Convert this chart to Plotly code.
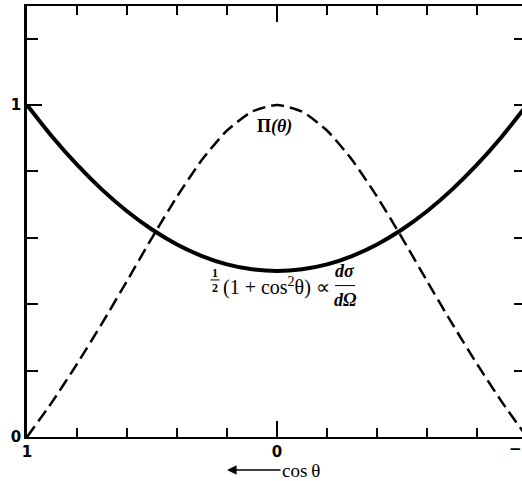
import plotly.graph_objects as go

# cos(theta) sample points, running from 1 on the left to -1 on the right
cos_theta = [1.0, 0.9, 0.8, 0.7, 0.6, 0.5, 0.4, 0.3, 0.2, 0.1, 0.0,
             -0.1, -0.2, -0.3, -0.4, -0.5, -0.6, -0.7, -0.8, -0.9, -1.0]

# angular distribution 1/2 (1 + cos^2 theta)  (solid curve)
cross_section = [1.0, 0.905, 0.82, 0.745, 0.68, 0.625, 0.58, 0.545, 0.52, 0.505, 0.5,
                 0.505, 0.52, 0.545, 0.58, 0.625, 0.68, 0.745, 0.82, 0.905, 1.0]

# polarization Pi(theta)  (dashed curve)
polarization = [0.0, 0.105, 0.22, 0.342, 0.47, 0.6, 0.724, 0.835, 0.923, 0.98, 1.0,
                0.98, 0.923, 0.835, 0.724, 0.6, 0.47, 0.342, 0.22, 0.105, 0.0]

x_minor_ticks = [0.8, 0.6, 0.4, 0.2, -0.2, -0.4, -0.6, -0.8]
x_major_ticks = [1, 0]
x_major_labels = ["1", "0"]
y_minor_ticks = [0.2, 0.4, 0.6, 0.8, 1.2]
y_major_ticks = [0, 1]
y_major_labels = ["0", "1"]

X_RANGE = [1, -0.98]
Y_RANGE = [0, 1.298]

INK = "black"
SERIF = "Liberation Serif"
TICKFONT = dict(family="DejaVu Sans", size=15, color=INK)

fig = go.Figure()

fig.add_trace(go.Scatter(
    x=cos_theta, y=polarization, mode="lines",
    line=dict(color=INK, width=2.5, dash="13px,6px", shape="spline", smoothing=0.6),
    hoverinfo="skip", showlegend=False))

fig.add_trace(go.Scatter(
    x=cos_theta, y=cross_section, mode="lines",
    line=dict(color=INK, width=4, shape="spline", smoothing=0.6),
    hoverinfo="skip", showlegend=False))

# invisible trace so the right-hand tick axis is laid out
fig.add_trace(go.Scatter(
    x=[0], y=[0], yaxis="y2", mode="lines", line=dict(width=0),
    hoverinfo="skip", showlegend=False))

fig.update_layout(
    width=522, height=481,
    margin=dict(l=27, r=0, t=6, b=44),
    paper_bgcolor="white", plot_bgcolor="white",
    xaxis=dict(
        range=X_RANGE, showgrid=False, zeroline=False,
        showline=True, linecolor=INK, linewidth=2, mirror="ticks",
        ticks="inside", ticklen=16, tickwidth=1.5, tickcolor=INK,
        tickmode="array", tickvals=x_major_ticks,
        ticktext=[f"<b>{t}</b>" for t in x_major_labels],
        tickfont=TICKFONT,
        minor=dict(tickmode="array", tickvals=x_minor_ticks, ticks="inside",
                   ticklen=9, tickwidth=1.5, tickcolor=INK, showgrid=False),
    ),
    yaxis=dict(
        range=Y_RANGE, showgrid=False, zeroline=False,
        showline=True, linecolor=INK, linewidth=2.5, mirror=False,
        ticks="inside", ticklen=15, tickwidth=1.5, tickcolor=INK,
        tickmode="array", tickvals=y_major_ticks,
        ticktext=[f"<b>{t}</b>" for t in y_major_labels],
        tickfont=TICKFONT,
        minor=dict(tickmode="array", tickvals=y_minor_ticks, ticks="inside",
                   ticklen=11, tickwidth=1.5, tickcolor=INK, showgrid=False),
    ),
    yaxis2=dict(
        range=Y_RANGE, overlaying="y", side="right", showgrid=False,
        zeroline=False, showline=False, showticklabels=False,
        ticks="inside", ticklen=8, tickwidth=1.5, tickcolor=INK,
        tickmode="array", tickvals=y_major_ticks[1:] + y_minor_ticks,
    ),
)

# labels placed inside the plotting area (data coordinates)
data_labels = [
    # polarization label
    dict(x=0.012, y=0.934, text="<b>\u03a0<i>(\u03b8)</i></b>",
         font=dict(family=SERIF, size=18, color=INK)),
    # 1/2 prefactor
    dict(x=0.248, y=0.495, text="<b>1</b>", font=dict(family=SERIF, size=12, color=INK)),
    dict(x=0.248, y=0.450, text="<b>2</b>", font=dict(family=SERIF, size=12, color=INK)),
    dict(x=0.226, y=0.452, xanchor="left", yanchor="middle",
         text="(1 + cos<sup>2</sup>\u03b8) \u221d",
         font=dict(family=SERIF, size=20, color=INK)),
    # d sigma / d Omega
    dict(x=-0.272, y=0.500, text="<b><i>d\u03c3</i></b>",
         font=dict(family=SERIF, size=18, color=INK)),
    dict(x=-0.272, y=0.412, text="<b><i>d\u03a9</i></b>",
         font=dict(family=SERIF, size=18, color=INK)),
]
for a in data_labels:
    fig.add_annotation(showarrow=False, xref="x", yref="y", **a)

# labels below the axis (paper coordinates)
fig.add_annotation(x=0.970, y=-0.028, xref="paper", yref="paper",
                   xanchor="left", yanchor="middle", showarrow=False,
                   text="<b>\u22121</b>", font=TICKFONT)
fig.add_annotation(x=0.404, y=-0.0766, xref="paper", yref="paper",
                   ax=74, ay=0, text="cos\u2009\u03b8",
                   showarrow=True, arrowhead=2, arrowsize=1.2, arrowwidth=1.6,
                   arrowcolor=INK, font=dict(family=SERIF, size=19, color=INK))

# fraction bars
fig.add_shape(type="line", xref="x", yref="y", x0=0.266, x1=0.230, y0=0.473, y1=0.473,
              line=dict(color=INK, width=1))
fig.add_shape(type="line", xref="x", yref="y", x0=-0.232, x1=-0.312, y0=0.456, y1=0.456,
              line=dict(color=INK, width=1))

fig.write_html("out.html")
